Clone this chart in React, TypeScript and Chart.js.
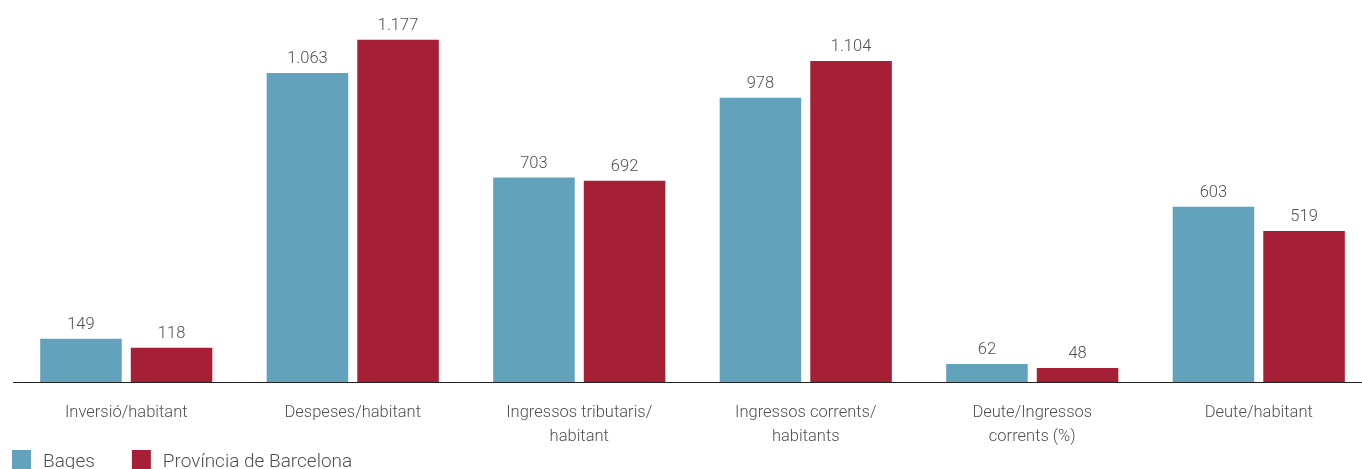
import React, { useEffect, useRef } from "react";
import { Chart, registerables } from "chart.js";

Chart.register(...registerables);

const categories: string[][] = [
  ["Inversió/habitant"],
  ["Despeses/habitant"],
  ["Ingressos tributaris/", "habitant"],
  ["Ingressos corrents/", "habitants"],
  ["Deute/Ingressos", "corrents (%)"],
  ["Deute/habitant"],
];
const seriesNames = ["Bages", "Província de Barcelona"];
const bagesValues = [149, 1063, 703, 978, 62, 603];
const barcelonaValues = [118, 1177, 692, 1104, 48, 519];
const seriesColors = ["#62a3bb", "#a51f36"];

const TEXT_COLOR = "#505050";
const FONT = "Roboto, 'Noto Sans', sans-serif";

function fmt(v: number): string {
  const s = Math.round(v).toString();
  return s.replace(/\B(?=(\d{3})+(?!\d))/g, ".");
}

const valueLabels = {
  id: "valueLabels",
  afterDatasetsDraw(chart: any) {
    const ctx = chart.ctx;
    ctx.save();
    ctx.font = `300 16.5px ${FONT}`;
    ctx.fillStyle = TEXT_COLOR;
    ctx.textAlign = "center";
    ctx.textBaseline = "alphabetic";
    chart.data.datasets.forEach((ds: any, i: number) => {
      const meta = chart.getDatasetMeta(i);
      meta.data.forEach((bar: any, j: number) => {
        ctx.fillText(fmt(ds.data[j]), bar.x, bar.y - 10);
      });
    });
    ctx.restore();
  },
};

const customLegend = {
  id: "customLegend",
  afterDraw(chart: any) {
    const ctx = chart.ctx;
    ctx.save();
    ctx.font = `300 19px ${FONT}`;
    ctx.textBaseline = "alphabetic";
    ctx.textAlign = "left";
    let x = 12;
    const boxTop = 450;
    const box = 19;
    chart.data.datasets.forEach((ds: any) => {
      ctx.fillStyle = ds.backgroundColor;
      ctx.fillRect(x, boxTop, box, box);
      const tx = x + box + 12;
      ctx.fillStyle = TEXT_COLOR;
      ctx.fillText(ds.label, tx, 467);
      x = tx + ctx.measureText(ds.label).width + 37;
    });
    ctx.restore();
  },
};

export default function App() {
  const ref = useRef<HTMLCanvasElement | null>(null);
  useEffect(() => {
    if (!ref.current) return;
    const chart = new Chart(ref.current, {
      type: "bar",
      data: {
        labels: categories,
        datasets: [
          { label: seriesNames[0], data: bagesValues, backgroundColor: seriesColors[0] },
          { label: seriesNames[1], data: barcelonaValues, backgroundColor: seriesColors[1] },
        ],
      },
      options: {
        animation: false,
        responsive: false,
        devicePixelRatio: 1,
        layout: { padding: { top: 4, left: 13, right: 8, bottom: 0 } },
        plugins: {
          legend: { display: false },
          tooltip: { enabled: false },
        },
        scales: {
          x: {
            grid: { display: false, drawTicks: false },
            border: { display: true, color: "#222222", width: 1 },
            ticks: {
              color: TEXT_COLOR,
              font: { family: FONT, size: 16.5, weight: "300", lineHeight: 1.45 },
              padding: 19,
              maxRotation: 0,
              autoSkip: false,
            },
            afterFit: (s: any) => {
              s.height = 98;
            },
          },
          y: {
            display: false,
            min: 0,
            max: 1300,
          },
        },
      },
      plugins: [valueLabels, customLegend],
    });
    return () => chart.destroy();
  }, []);
  return (
    <div style={{ position: "fixed", left: 0, top: 0, width: "100vw", height: "100vh", overflow: "hidden", background: "#fff" }}>
      <canvas ref={ref} width={1380} height={480} style={{ display: "block" }} />
    </div>
  );
}
